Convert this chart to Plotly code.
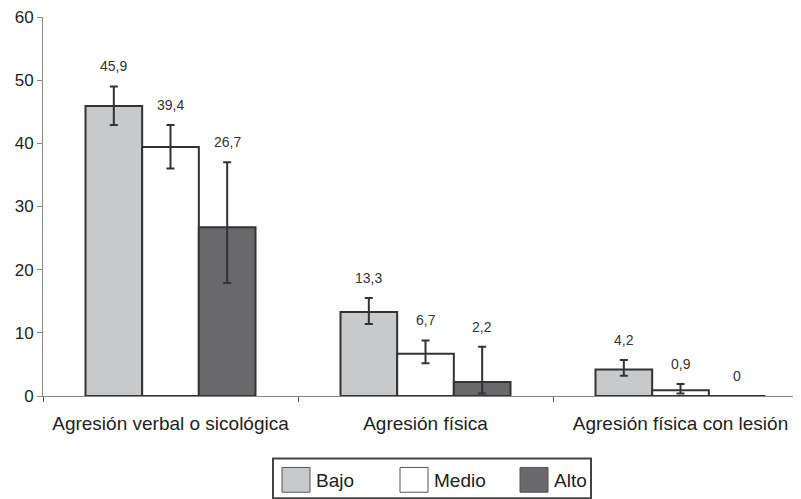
import plotly.graph_objects as go

categories = ["Agresión verbal o sicológica", "Agresión física", "Agresión física con lesión"]
series_names = ["Bajo", "Medio", "Alto"]
bajo = [45.9, 13.3, 4.2]
medio = [39.4, 6.7, 0.9]
alto = [26.7, 2.2, 0]
bajo_plus = [3.1, 2.2, 1.5]
bajo_minus = [3.0, 1.9, 1.0]
medio_plus = [3.5, 2.1, 1.0]
medio_minus = [3.4, 1.5, 0.5]
alto_plus = [10.3, 5.6, 0]
alto_minus = [8.8, 1.8, 0]
y_ticks = [0, 10, 20, 30, 40, 50, 60]

colors = ["#c8c9cb", "#ffffff", "#69696b"]
values = [bajo, medio, alto]
plus = [bajo_plus, medio_plus, alto_plus]
minus = [bajo_minus, medio_minus, alto_minus]

# page body has an 8px margin; compensate so the figure lands like the reference
OFF = 8
W, H = 801 - OFF, 499 - OFF
L, T, B = 43 - OFF, 14 - OFF, 103
PW = W - L
PH = H - T - B
cat_px = 255.0

fig = go.Figure()
for name, vals, col, ep, em in zip(series_names, values, colors, plus, minus):
    fig.add_trace(go.Bar(
        x=categories, y=vals, name=name,
        marker=dict(color=col, line=dict(color="#333333", width=2)),
        error_y=dict(type="data", symmetric=False, array=ep, arrayminus=em,
                     color="#333333", thickness=2, width=4),
        showlegend=False,
    ))

def fmt(v):
    s = ("%.1f" % v).replace(".", ",")
    if s.endswith(",0"):
        s = s[:-2]
    return s

offsets = [-1, 0, 1]
annotations = []
for k, (vals, ep) in enumerate(zip(values, plus)):
    for i, v in enumerate(vals):
        annotations.append(dict(
            x=i + offsets[k] * (2 / 9), y=v + ep[i], xref="x", yref="y",
            text=fmt(v), showarrow=False, yshift=20, yanchor="middle",
            font=dict(size=14, color="#333333")))

# custom legend (page pixel -> paper)
def px(xp):
    return (xp - OFF - L) / PW
def py(yp):
    return (T + PH - (yp - OFF)) / PH

shapes = [dict(type="rect", xref="paper", yref="paper",
               x0=px(273), x1=px(591), y0=py(499), y1=py(459),
               line=dict(color="#444444", width=2), fillcolor="white")]
sw_x = [282, 400, 520]
for name, col, sx in zip(series_names, colors, sw_x):
    shapes.append(dict(type="rect", xref="paper", yref="paper",
                       x0=px(sx), x1=px(sx + 28), y0=py(493), y1=py(468),
                       line=dict(color="#555555", width=1), fillcolor=col))
    annotations.append(dict(x=px(sx + 32), y=py(481), xref="paper", yref="paper",
                            text=name, showarrow=False, xanchor="left", yanchor="middle",
                            font=dict(size=19, color="#222222")))

fig.update_layout(
    width=W, height=H,
    margin=dict(l=L, r=0, t=T, b=B, pad=0),
    paper_bgcolor="white", plot_bgcolor="white",
    barmode="group", bargap=1 / 3, bargroupgap=0,
    font=dict(family="Arial, Liberation Sans, sans-serif", color="#333333"),
    xaxis=dict(range=[-0.5, -0.5 + PW / cat_px], showline=True, linecolor="#888888",
               linewidth=1, ticks="outside", tickson="boundaries", ticklen=5,
               tickcolor="#555555", tickfont=dict(size=19, color="#222222"),
               ticklabelstandoff=10,
               showgrid=False, zeroline=False),
    yaxis=dict(range=[0, 60], tickvals=y_ticks, showline=True, linecolor="#888888",
               linewidth=1, ticks="outside", ticklen=5, tickcolor="#888888",
               ticklabeloverflow="allow",
               tickfont=dict(size=17, color="#222222"), showgrid=False, zeroline=False),
    shapes=shapes, annotations=annotations,
)
fig.write_html("out.html")
